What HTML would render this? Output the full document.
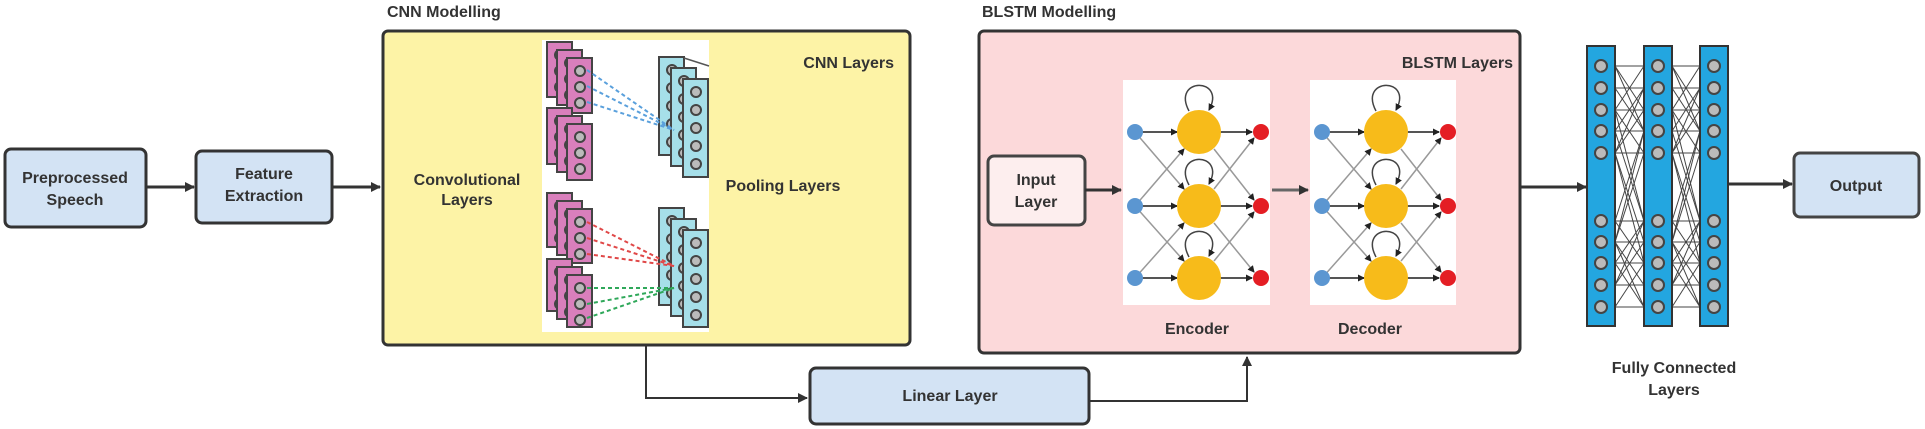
<!DOCTYPE html>
<html><head><meta charset="utf-8"><style>
html,body{margin:0;padding:0;background:#fff;width:1925px;height:429px;overflow:hidden}
svg{display:block}
text{font-family:"Liberation Sans",Arial,sans-serif;font-weight:bold;fill:#333;font-size:16px}
</style></head><body>
<svg id="s" width="1925" height="429" viewBox="0 0 1925 429" xmlns="http://www.w3.org/2000/svg">
<defs>
<marker id="ar" markerWidth="10" markerHeight="10" refX="9" refY="5" orient="auto" markerUnits="userSpaceOnUse"><path d="M0,0 L10,5 L0,10 z" fill="#333"/></marker>
<marker id="as" markerWidth="7" markerHeight="7" refX="6" refY="3.5" orient="auto" markerUnits="userSpaceOnUse"><path d="M0,0 L7,3.5 L0,7 z" fill="#222"/></marker>
</defs>
<rect x="5" y="149" width="141" height="78" rx="6" fill="#d3e3f4" stroke="#333" stroke-width="3"/>
<text x="75" y="183" text-anchor="middle">Preprocessed</text>
<text x="75" y="205" text-anchor="middle">Speech</text>
<rect x="196" y="151" width="136" height="72" rx="6" fill="#d3e3f4" stroke="#333" stroke-width="3"/>
<text x="264" y="179" text-anchor="middle">Feature</text>
<text x="264" y="201" text-anchor="middle">Extraction</text>
<line x1="146" y1="187" x2="194" y2="187" stroke="#333" stroke-width="3" marker-end="url(#ar)"/>
<line x1="332" y1="187" x2="380" y2="187" stroke="#333" stroke-width="3" marker-end="url(#ar)"/>
<text x="387" y="17">CNN Modelling</text>
<rect x="383" y="31" width="527" height="314" rx="5" fill="#fdf3a6" stroke="#333" stroke-width="3"/>
<rect x="542" y="40" width="167" height="292" fill="#fff"/>
<text x="894" y="68" text-anchor="end">CNN Layers</text>
<text x="467" y="185" text-anchor="middle" font-size="15">Convolutional</text>
<text x="467" y="205" text-anchor="middle" font-size="15">Layers</text>
<text x="783" y="191" text-anchor="middle" font-size="15">Pooling Layers</text>
<g id="cnn"></g>
<polyline points="646,345 646,398 807,398" fill="none" stroke="#333" stroke-width="2" marker-end="url(#ar)"/>
<rect x="810" y="368" width="279" height="56" rx="6" fill="#d3e3f4" stroke="#333" stroke-width="3"/>
<text x="950" y="401" text-anchor="middle">Linear Layer</text>
<polyline points="1089,401 1247,401 1247,357" fill="none" stroke="#333" stroke-width="2" marker-end="url(#ar)"/>
<text x="982" y="17">BLSTM Modelling</text>
<rect x="979" y="31" width="541" height="322" rx="5" fill="#fcd9da" stroke="#333" stroke-width="3"/>
<text x="1513" y="68" text-anchor="end">BLSTM Layers</text>
<rect x="988" y="156" width="97" height="69" rx="6" fill="#fdeeee" stroke="#444" stroke-width="3"/>
<text x="1036" y="185" text-anchor="middle">Input</text>
<text x="1036" y="207" text-anchor="middle">Layer</text>
<line x1="1085" y1="190" x2="1121" y2="190" stroke="#333" stroke-width="3" marker-end="url(#ar)"/>
<rect x="1123" y="80" width="147" height="225" fill="#fff"/>
<rect x="1310" y="80" width="146" height="225" fill="#fff"/>
<line x1="1272" y1="190" x2="1308" y2="190" stroke="#666" stroke-width="3" marker-end="url(#ar)"/>
<g id="lstm"></g>
<text x="1197" y="334" text-anchor="middle">Encoder</text>
<text x="1370" y="334" text-anchor="middle">Decoder</text>
<line x1="1520" y1="187" x2="1586" y2="187" stroke="#333" stroke-width="3" marker-end="url(#ar)"/>
<g id="fc"></g>
<text x="1674" y="373" text-anchor="middle" font-size="15">Fully Connected</text>
<text x="1674" y="395" text-anchor="middle" font-size="15">Layers</text>
<line x1="1728" y1="184" x2="1792" y2="184" stroke="#333" stroke-width="3" marker-end="url(#ar)"/>
<rect x="1794" y="153" width="125" height="64" rx="6" fill="#d3e3f4" stroke="#444" stroke-width="3"/>
<text x="1856" y="191" text-anchor="middle">Output</text>
</svg>
<script>
var NS="http://www.w3.org/2000/svg";
function el(p,t,a){var e=document.createElementNS(NS,t);for(var k in a)e.setAttribute(k,a[k]);document.getElementById(p).appendChild(e);return e;}
function pink(y,h){for(var i=0;i<3;i++){var x=547+i*10,yy=y-16+i*8;el("cnn","rect",{x:x,y:yy,width:25,height:h,fill:"#d97fbc",stroke:"#444","stroke-width":2});
 for(var j=0;j<3;j++)el("cnn","circle",{cx:x+13,cy:yy+13+j*16,r:5,fill:"#bbb",stroke:"#444","stroke-width":2});}}
function cyan(y,h){for(var i=0;i<3;i++){var x=659+i*12,yy=y-22+i*11;el("cnn","rect",{x:x,y:yy,width:25,height:h,fill:"#a6dfe9",stroke:"#444","stroke-width":2});
 for(var j=0;j<5;j++)el("cnn","circle",{cx:x+13,cy:yy+13+j*18,r:5,fill:"#bbb",stroke:"#444","stroke-width":2});}}
function dash(x1,y1,x2,y2,c){el("cnn","line",{x1:x1,y1:y1,x2:x2,y2:y2,stroke:c,"stroke-width":2,"stroke-dasharray":"4,3"});}
pink(58,55);pink(124,56);pink(209,54);pink(275,52);
cyan(79,98);cyan(230,97);
dash(587,70,674,130,"#5aa0dc");dash(587,86,674,130,"#5aa0dc");dash(587,102,674,130,"#5aa0dc");
dash(587,222,674,266,"#e04848");dash(587,238,674,266,"#e04848");dash(587,254,674,266,"#e04848");
dash(587,288,674,288,"#2fa85a");dash(587,304,674,288,"#2fa85a");dash(587,318,674,288,"#2fa85a");
el("cnn","line",{x1:684,y1:58,x2:709,y2:66,stroke:"#555","stroke-width":1.5});
[1123,1310].forEach(function(ox){
 var bx=ox+12,yx=ox+76,rx=ox+138,ys=[132,206,278];
 ys.forEach(function(y,i){
  el("lstm","path",{d:"M"+(yx-10)+","+(y-21)+" C"+(yx-28)+","+(y-55)+" "+(yx+28)+","+(y-55)+" "+(yx+10)+","+(y-22),fill:"none",stroke:"#444","stroke-width":1.5,"marker-end":"url(#as)"});
  el("lstm","line",{x1:bx,y1:y,x2:yx-22,y2:y,stroke:"#555","stroke-width":2,"marker-end":"url(#as)"});
  el("lstm","line",{x1:yx+21,y1:y,x2:rx-9,y2:y,stroke:"#555","stroke-width":2,"marker-end":"url(#as)"});
  ys.forEach(function(y2,k){if(Math.abs(k-i)==1){
   el("lstm","line",{x1:bx,y1:y,x2:yx-15,y2:y2+(k>i?-17:17),stroke:"#999","stroke-width":1.5,"marker-end":"url(#as)"});
   el("lstm","line",{x1:yx+15,y1:y+(k>i?17:-17),x2:rx-7,y2:y2+(k>i?-6:6),stroke:"#999","stroke-width":1.5,"marker-end":"url(#as)"});}});
 });
 ys.forEach(function(y){
  el("lstm","circle",{cx:yx,cy:y,r:22,fill:"#f7bb1a"});
  el("lstm","circle",{cx:bx,cy:y,r:8,fill:"#5b96d1"});
  el("lstm","circle",{cx:rx,cy:y,r:8,fill:"#e41e24"});
 });
});
var cols=[1587,1644,1700],ny=[66,88,110,131,153,221,242,263,285,307];
for(var c=0;c<2;c++){for(var a=0;a<ny.length;a++){for(var b=0;b<ny.length;b++){if(a==b||Math.abs(a-b)==2||(Math.abs(a-b)==3&&a%2==0))el("fc","line",{x1:cols[c]+28,y1:ny[a],x2:cols[c+1],y2:ny[b],stroke:"#444","stroke-width":1});}}}
cols.forEach(function(x){el("fc","rect",{x:x,y:46,width:28,height:280,fill:"#23a6e0",stroke:"#333","stroke-width":2});
 ny.forEach(function(y){el("fc","circle",{cx:x+14,cy:y,r:6,fill:"#bbb",stroke:"#444","stroke-width":2});});});
</script>
</body></html>
